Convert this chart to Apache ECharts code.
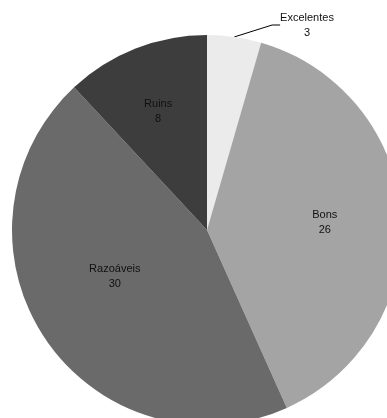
<!DOCTYPE html>
<html>
<head>
<meta charset="utf-8">
<script src="https://cdn.jsdelivr.net/npm/echarts@6/dist/echarts.min.js"></script>
<style>html,body{margin:0;padding:0;background:#fff;}#c{width:387px;height:418px;}</style>
</head>
<body>
<div id="c"></div>
<script>
const categories = ['Excelentes', 'Bons', 'Razoáveis', 'Ruins'];
const values = [3, 26, 30, 8];
const colors = ['#ebebeb', '#a4a4a4', '#6a6a6a', '#3d3d3d'];
// label shifts from the default inside position [dx, dy]
const labelOffsets = [[0, 0], [17.5, -0.5], [-8.5, -8.7], [-12, -25]];

const R = 195, CX = 207, CY = 230;

const chart = echarts.init(document.getElementById('c'), null, {renderer: 'canvas'});
chart.setOption({
  animation: false,
  backgroundColor: '#ffffff',
  series: [{
    type: 'pie',
    center: [CX, CY],
    radius: [0, R],
    startAngle: 90,
    clockwise: true,
    avoidLabelOverlap: false,
    itemStyle: {borderWidth: 0},
    label: {
      position: 'inside',
      formatter: '{b}\n{c}',
      color: '#111',
      fontFamily: 'Liberation Sans',
      fontSize: 11,
      lineHeight: 15,
      align: 'center'
    },
    labelLine: {show: false},
    labelLayout: function (p) {
      const i = p.dataIndex;
      if (i === 0) return {x: 307, y: 25, align: 'center', verticalAlign: 'middle'};
      return {dx: labelOffsets[i][0], dy: labelOffsets[i][1]};
    },
    data: categories.map((c, i) => {
      const item = {name: c, value: values[i], itemStyle: {color: colors[i]}};
      if (i === 0) {
        item.label = {position: 'outside', color: '#111', distanceToLabelLine: 3};
        item.labelLine = {show: true, length: 18, length2: 8, lineStyle: {color: '#000', width: 1}};
      }
      return item;
    })
  }]
});
</script>
</body>
</html>
